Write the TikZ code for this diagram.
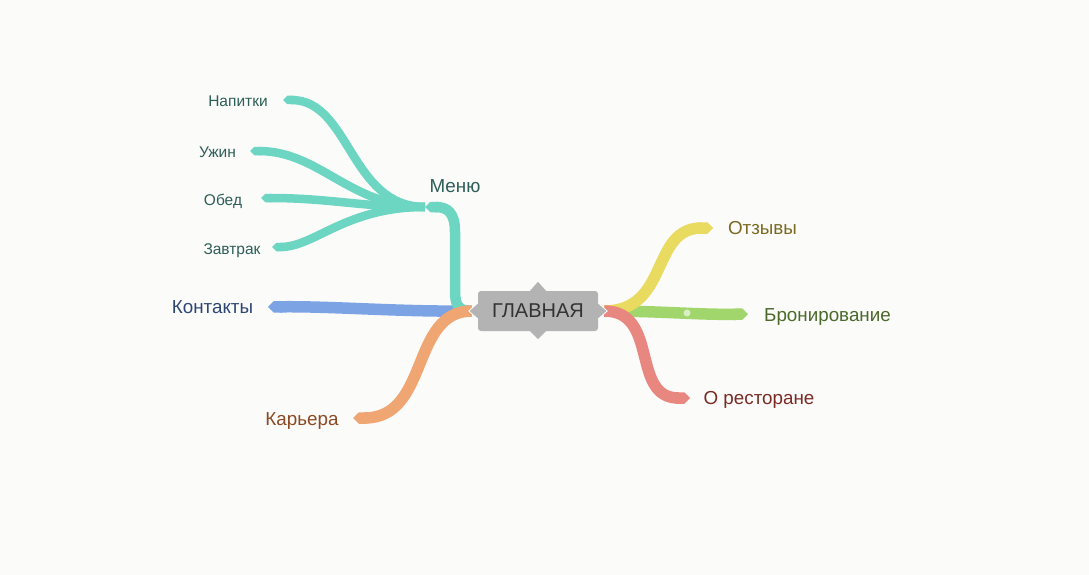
\documentclass[tikz,border=0pt]{standalone}
\usepackage{fontspec}
\setmainfont{Liberation Sans}
\usetikzlibrary{arrows.meta}
\definecolor{paper}{HTML}{FBFBFA}
\definecolor{hubgray}{HTML}{B3B3B3}
\definecolor{hubtext}{HTML}{333333}
\definecolor{tealline}{HTML}{6CD6C3}
\definecolor{blueline}{HTML}{7CA4E4}
\definecolor{orangeline}{HTML}{F0A673}
\definecolor{yellowline}{HTML}{E9DA60}
\definecolor{greenline}{HTML}{A0D66C}
\definecolor{redline}{HTML}{E8877F}
\definecolor{tealtext}{HTML}{2D5E58}
\definecolor{bluetext}{HTML}{2E4674}
\definecolor{orangetext}{HTML}{8A4A22}
\definecolor{yellowtext}{HTML}{7A6A22}
\definecolor{greentext}{HTML}{4B6A2A}
\definecolor{redtext}{HTML}{7A2A24}
\pgfdeclarelayer{paperlayer}
\pgfdeclarelayer{links}
\pgfsetlayers{paperlayer,links,main}
\begin{document}
\begin{tikzpicture}[x=1pt,y=-1pt,
	branch/.style={line width=11.5pt,-{Triangle Cap}},
	twig/.style={line width=8.5pt,-{Triangle Cap}},
	toplabel/.style={inner sep=0pt,font=\fontsize{18.8}{20}\selectfont,text height=0.72em,text depth=0pt},
	sublabel/.style={inner sep=0pt,font=\fontsize{15.5}{17}\selectfont,text height=0.72em,text depth=0pt},
	hub/.style={fill=hubgray,rounded corners=3pt,minimum width=120pt,minimum height=40pt,text=hubtext,font=\fontsize{20}{22}\selectfont}]
	\useasboundingbox (0,0) rectangle (1089,575);
	\begin{pgfonlayer}{paperlayer}
	\fill[paper] (0,0) rectangle (1089,575);
	\end{pgfonlayer}
	% centre
	\node[hub] (main) at (538,311) {ГЛАВНАЯ};
	\fill[hubgray] ([xshift=-8pt]main.north) -- ([yshift=9pt]main.north) -- ([xshift=8pt]main.north) -- cycle;
	\fill[hubgray] ([xshift=-8pt]main.south) -- ([yshift=-8pt]main.south) -- ([xshift=8pt]main.south) -- cycle;
	\fill[hubgray] ([yshift=8pt]main.west) -- ([xshift=-9pt]main.west) -- ([yshift=-8pt]main.west) -- cycle;
	\draw[white,line width=0.8pt] ([yshift=8pt]main.west) -- ([xshift=-9pt]main.west) -- ([yshift=-8pt]main.west);
	\fill[hubgray] ([yshift=8pt]main.east) -- ([xshift=9pt]main.east) -- ([yshift=-8pt]main.east) -- cycle;
	\draw[white,line width=0.8pt] ([yshift=8pt]main.east) -- ([xshift=9pt]main.east) -- ([yshift=-8pt]main.east);
	\coordinate (lroot) at ([xshift=-6pt]main.west);
	\coordinate (rroot) at ([xshift=6pt]main.east);
	% labels
	\node[toplabel,text=tealtext] (menu) at (455,189) {Меню};
	\node[sublabel,text=tealtext] (napitki) at (238,103) {Напитки};
	\node[sublabel,text=tealtext] (uzhin) at (217.5,154) {Ужин};
	\node[sublabel,text=tealtext] (obed) at (223,202) {Обед};
	\node[sublabel,text=tealtext] (zavtrak) at (232,251) {Завтрак};
	\node[toplabel,text=bluetext] (kontakty) at (212.5,310) {Контакты};
	\node[toplabel,text=orangetext] (karera) at (302,422) {Карьера};
	\node[toplabel,text=yellowtext] (otzyvy) at (762.5,231) {Отзывы};
	\node[toplabel,text=greentext] (bron) at (827.5,318) {Бронирование};
	\node[toplabel,text=redtext] (orest) at (759,401) {О ресторане};
	% tips
	\coordinate (menutip) at (425,207);
	\coordinate (napitkitip) at (283,100);
	\coordinate (uzhintip) at (250,151);
	\coordinate (obedtip) at (261,198);
	\coordinate (zavtraktip) at (272,247);
	\coordinate (kontaktytip) at (268,307);
	\coordinate (kareratip) at (353,418);
	\coordinate (otzyvytip) at (713,228);
	\coordinate (brontip) at (748,314);
	\coordinate (oresttip) at (690,398);
	\begin{pgfonlayer}{links}
	\draw[branch,blueline] (lroot) .. controls (400,312) and (330,306) .. (kontaktytip);
	\draw[branch,tealline,line width=10.5pt] (lroot) .. controls (458,311) and (455,305) .. (455,290) -- (455,232) .. controls (455,212) and (447,207) .. (menutip);
	\draw[twig,tealline] (menutip) .. controls (350,207) and (350,100) .. (napitkitip);
	\draw[twig,tealline] (menutip) .. controls (350,207) and (320,151) .. (uzhintip);
	\draw[twig,tealline] (menutip) .. controls (360,207) and (330,198) .. (obedtip);
	\draw[twig,tealline] (menutip) .. controls (345,207) and (315,247) .. (zavtraktip);
	\draw[branch,orangeline] (lroot) .. controls (410,311) and (430,418) .. (kareratip);
	\draw[branch,greenline] (rroot) .. controls (660,311) and (700,315) .. (brontip);
	\fill[white,opacity=0.6] (687,313) circle (3.5);
	\draw[branch,yellowline] (rroot) .. controls (670,311) and (650,228) .. (otzyvytip);
	\draw[branch,redline] (rroot) .. controls (660,311) and (630,398) .. (oresttip);
	\end{pgfonlayer}
\end{tikzpicture}
\end{document}
